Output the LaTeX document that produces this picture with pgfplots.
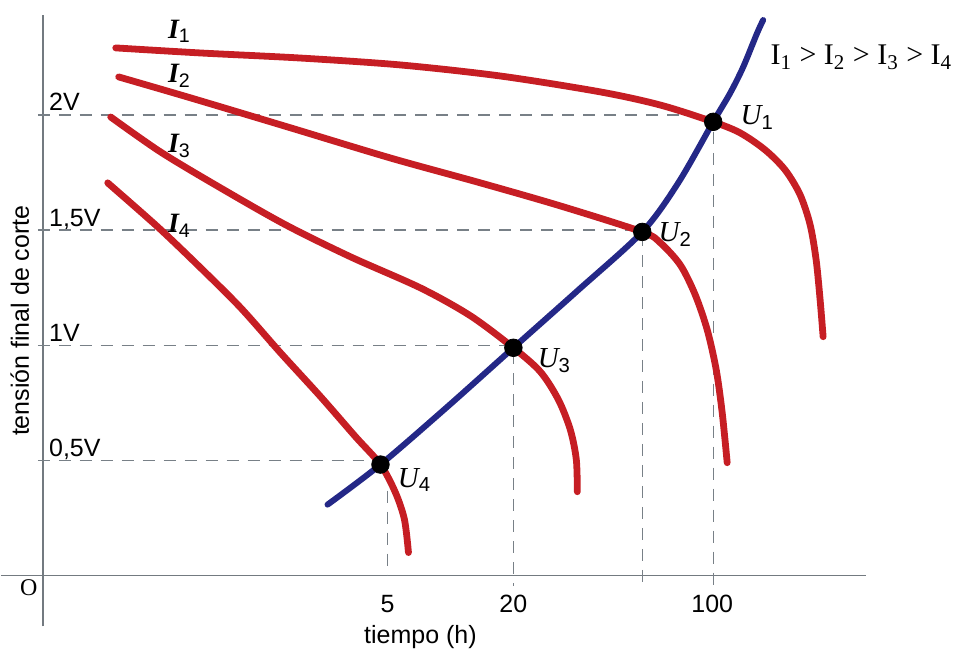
\documentclass[border=0pt]{standalone}
\usepackage{fontspec}
\setmainfont{Liberation Sans}
\newfontfamily\serifO{Liberation Serif}
\usepackage{pgfplots}
\pgfplotsset{compat=1.18}
\definecolor{curvered}{RGB}{198,30,36}
\definecolor{curveblue}{RGB}{36,40,135}
\definecolor{axisgray}{RGB}{115,122,128}
\definecolor{dashgray}{RGB}{120,128,135}
\newcommand\fI{\fontsize{14}{16}\selectfont}
\newcommand\fU{\fontsize{14.5}{17}\selectfont}
\newcommand\fR{\fontsize{15}{18}\selectfont}
\newcommand\fO{\fontsize{12}{14}\selectfont}

\begin{document}
\begin{tikzpicture}[font=\fontsize{12.5}{15}\selectfont]
\begin{axis}[
  scale only axis, width=433pt, height=306pt,
  xmin=-42, xmax=824, ymin=-0.221, ymax=2.434,
  axis lines=middle,
  axis line style={-, draw=axisgray, line width=0.8pt},
  xtick={345,471,670}, xticklabels={5,20,100},
  ytick={0.5,1,1.5,2}, yticklabels={{0,5V},{1V},{1,5V},{2V}},
  major tick length=0pt,
  xticklabel style={anchor=north, inner sep=0pt, yshift=-9.5pt},
  yticklabel style={anchor=base west, inner sep=0pt, xshift=3pt, yshift=2pt},
  xlabel={tiempo (h)}, ylabel={tensión final de corte},
  x label style={at={(axis description cs:0.485,-0.0166)}, anchor=center},
  y label style={at={(axis description cs:0.022,0.5)}, rotate=90, anchor=center},
  clip=false,
]
\addplot[draw=none] coordinates {(-42,-0.321) (915,2.499)};

% dashed guide lines
\addplot[dashgray, line width=0.6pt, dash pattern=on 6pt off 4.5pt] coordinates {(-5,2) (671,2) (671,-0.045)};
\addplot[dashgray, line width=0.6pt, dash pattern=on 6pt off 4.5pt] coordinates {(-5,1.5) (600,1.5) (600,-0.045)};
\addplot[dashgray, line width=0.6pt, dash pattern=on 6pt off 4.5pt] coordinates {(-5,1) (471,1) (471,-0.045)};
\addplot[dashgray, line width=0.6pt, dash pattern=on 6pt off 4.5pt] coordinates {(-5,0.5) (338,0.5)};
\addplot[dashgray, line width=0.6pt, dash pattern=on 6pt off 4.5pt] coordinates {(345,0.46) (345,0)};

% discharge curves I1..I4
\addplot[curvered, line width=3.4pt, line cap=round, smooth] coordinates {
(73,2.291) (158,2.269) (258,2.247) (358,2.217) (458,2.169) (558,2.100) (618,2.043) (671,1.970) (698,1.922) (723,1.848) (743,1.761) (758,1.653) (768,1.523) (774,1.371) (778,1.197) (781,1.037)};
\addplot[curvered, line width=3.4pt, line cap=round, smooth] coordinates {
(76,2.165) (148,2.074) (248,1.944) (348,1.813) (438,1.705) (518,1.605) (600,1.492) (618,1.445) (638,1.349) (653,1.219) (665,1.067) (674,0.894) (680,0.707) (685,0.490)};
\addplot[curvered, line width=3.4pt, line cap=round, smooth] coordinates {
(68,1.991) (118,1.839) (178,1.683) (243,1.523) (308,1.384) (378,1.249) (428,1.128) (471,0.989) (498,0.885) (516,0.764) (528,0.633) (534,0.503) (535,0.364)};
\addplot[curvered, line width=3.4pt, line cap=round, smooth] coordinates {
(65,1.705) (115,1.514) (158,1.336) (198,1.163) (238,0.967) (278,0.777) (313,0.603) (338,0.482) (353,0.360) (362,0.243) (366,0.100)};

% cut-off voltage curve
\addplot[curveblue, line width=3pt, line cap=round, smooth] coordinates {
(285,0.308) (338,0.482) (405,0.733) (471,0.989) (535,1.236) (600,1.492) (636,1.705) (671,1.970) (688,2.095) (701,2.208) (715,2.356) (721,2.412)};

% intersection points U1..U4
\addplot[only marks, mark=*, mark size=4.4pt, black] coordinates {(338,0.482) (471,0.989) (600,1.492) (671,1.970)};

\node[anchor=base west, inner sep=0pt] at (axis cs:125,2.334) {\fI{\serifO\bfseries\itshape I}\textsubscript{1}};
\node[anchor=base west, inner sep=0pt] at (axis cs:125,2.139) {\fI{\serifO\bfseries\itshape I}\textsubscript{2}};
\node[anchor=base west, inner sep=0pt] at (axis cs:125,1.835) {\fI{\serifO\bfseries\itshape I}\textsubscript{3}};
\node[anchor=base west, inner sep=0pt] at (axis cs:125,1.488) {\fI{\serifO\bfseries\itshape I}\textsubscript{4}};
\node[anchor=base west, inner sep=0pt] at (axis cs:698,1.957) {\fU{\serifO\itshape U}\textsubscript{1}};
\node[anchor=base west, inner sep=0pt] at (axis cs:616,1.449) {\fU{\serifO\itshape U}\textsubscript{2}};
\node[anchor=base west, inner sep=0pt] at (axis cs:495,0.902) {\fU{\serifO\itshape U}\textsubscript{3}};
\node[anchor=base west, inner sep=0pt] at (axis cs:355,0.382) {\fU{\serifO\itshape U}\textsubscript{4}};
\node[anchor=base west, inner sep=0pt] at (axis cs:728,2.217) {\fR\serifO I\textsubscript{1} > I\textsubscript{2} > I\textsubscript{3} > I\textsubscript{4}};
\node[anchor=center] at (axis cs:-14,-0.052) {\fO\serifO O};
\end{axis}
\end{tikzpicture}
\end{document}
